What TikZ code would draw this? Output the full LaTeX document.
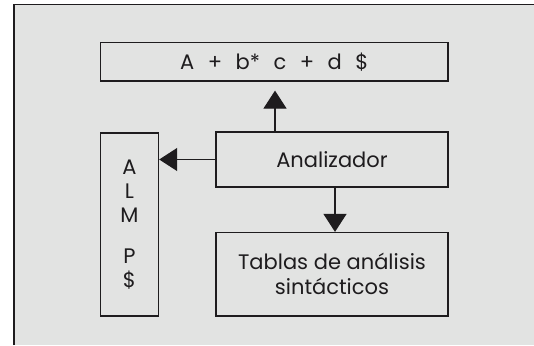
\documentclass[tikz,border=0pt]{standalone}
\usepackage{fontspec}
\setmainfont{Poppins}
\usetikzlibrary{arrows.meta}
\definecolor{bgray}{RGB}{226,227,226}
\definecolor{ink}{RGB}{30,28,30}
\newcommand{\gapx}{\hspace*{13.5pt}}
\begin{document}
\begin{tikzpicture}[x=1pt,y=-1pt,
  box/.style={draw=ink,line width=1.4pt,rectangle,inner sep=0pt,font=\fontsize{21}{25}\selectfont,text=ink,align=center},
  arr/.style={draw=ink,line width=1.2pt,-{Triangle[length=18pt,width=23pt]}}]
\useasboundingbox (0,0) rectangle (534,345);
\fill[white] (0,0) rectangle (534,345);
\fill[bgray] (14,4.5) rectangle (534,345);
\draw[ink,line width=1.5pt] (14,345) -- (14,4.5) -- (534,4.5);
\node[box,minimum width=347.5pt,minimum height=38.4pt] (inbox) at (274.25,61.8) {A\gapx+\gapx b*\gapx c\gapx+\gapx d\gapx\$};
\node[box,minimum width=232pt,minimum height=55pt] (anal) at (332,159.5) {Analizador};
\node[box,minimum width=58pt,minimum height=183pt] (alm) at (129.5,224.5) {A\\[-1pt]L\\[-1pt]M\\[16pt]P\\[-1pt]\$};
\node[box,minimum width=232pt,minimum height=83.4pt] (tab) at (332,274.3) {Tablas de análisis\\[0pt]sintácticos};
\coordinate (tipup) at (275,90.6);
\draw[arr] (anal.north -| tipup) -- (tipup);
\draw[arr] (anal.west) -- (alm.east |- anal.west);
\draw[arr] ([xshift=3pt]anal.south) -- ([xshift=3pt]tab.north);
\end{tikzpicture}
\end{document}
